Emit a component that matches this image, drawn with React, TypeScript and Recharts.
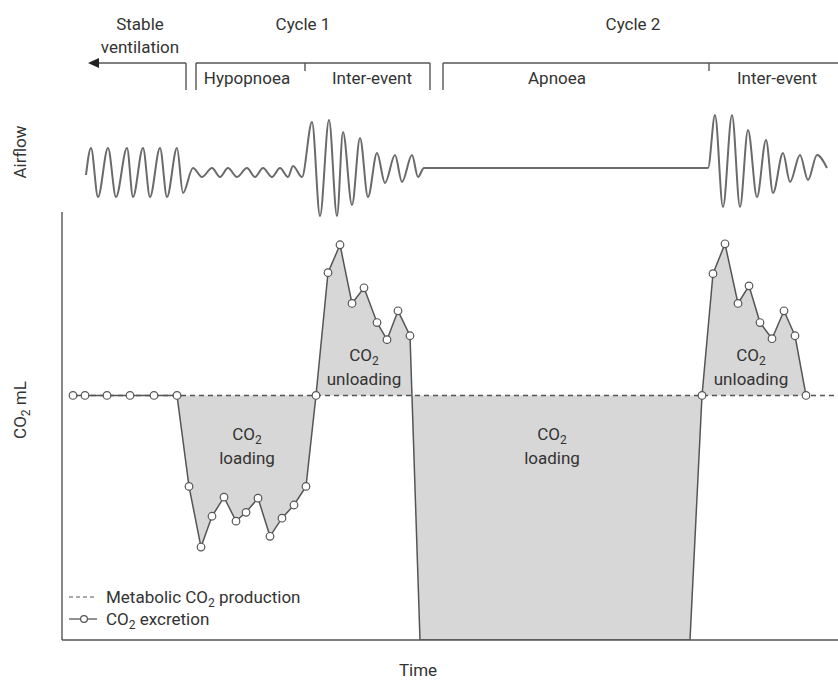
import React from 'react';
import {
  ComposedChart,
  LineChart,
  Line,
  Area,
  XAxis,
  YAxis,
  ReferenceLine,
  ReferenceDot,
  Legend,
} from 'recharts';

const FONT = 'Roboto, "Noto Sans", "DejaVu Sans", sans-serif';
const FS = 17;
const SUB_FS = 12;
const INK = '#333333';
const LINE = '#555555';
const TRACE = '#6a6a6a';
const FILL = '#d7d7d7';

const W = 838;
const H = 684;

// ---------- data ----------
const T_MAX = 194; // time axis length (s)
const CO2_MAX = 8.75; // top of CO2 axis
const METABOLIC_CO2 = 5; // metabolic CO2 production (constant)

// CO2 excretion samples
const co2Time = [
  2.75, 5.75, 11.25, 17, 23, 28.75,
  31.75, 34.75, 37.5, 40.5, 43.5, 46, 49, 52, 55, 58, 61,
  63.5,
  66.5, 69.5, 72.5, 75.5, 78.75, 81.25, 84, 87,
  89.5, 157,
  160,
  162.75, 165.75, 169, 171.75, 174.5, 177.5, 180.5, 183.25,
  186,
];
const co2Excretion = [
  5, 5, 5, 5, 5, 5,
  3.14, 1.9, 2.53, 2.92, 2.43, 2.61, 2.9, 2.12, 2.49, 2.76, 3.14,
  5,
  7.51, 8.08, 6.88, 7.2, 6.49, 6.14, 6.73, 6.22,
  0, 0,
  5,
  7.49, 8.1, 6.88, 7.24, 6.49, 6.16, 6.73, 6.22,
  5,
];

// Airflow trace: turning points (peaks / troughs) of each breath
const airflowTime = [
  6, 7.25, 9, 11.5, 13.5, 16.25, 17.75, 20.25, 22, 24.5, 26.25, 28.75, 30.25,
  32.75, 35, 37.5, 39.5, 41.5, 43.75, 46.25, 48.25, 50.25, 52.5, 54.5, 56.5, 57.75, 60,
  62.5, 64.5, 66.75, 68.75, 70.25, 72.5, 74.5, 76.5, 78.75, 80.75, 83.25, 85, 87.5, 89, 90.5,
  161.5,
  163.25, 165.25, 167.5, 169.5, 171.5, 173.75, 176, 177.75, 180.25, 182, 184.5, 186.5, 188.75, 191.25,
];
const airflowSignal = [
  -0.8, 1.9, -3.0, 1.9, -3.0, 1.9, -3.0, 1.9, -3.0, 1.9, -3.0, 1.9, -2.6,
  -0.1, -1.0, -0.1, -1.0, -0.1, -1.0, -0.1, -1.0, -0.1, -1.0, -0.1, -1.0, 0.1, -1.0,
  4.5, -4.9, 4.7, -4.9, 3.5, -3.8, 2.9, -3.0, 1.4, -1.6, 1.2, -1.5, 1.2, -1.0, -0.1,
  -0.1,
  5.2, -4.0, 5.2, -4.0, 3.7, -3.0, 2.7, -2.6, 1.4, -1.5, 1.2, -1.3, 1.2, -0.1,
];
const FLOW_MIN = -5.3;
const FLOW_MAX = 16.7;

// Phase annotations (times in s)
const phaseTitles = [
  { t: 19.5, lines: ['Stable', 'ventilation'] },
  { t: 60.25, lines: ['Cycle 1'] },
  { t: 142.75, lines: ['Cycle 2'] },
];
const phaseEvents = [
  { t: 46.25, label: 'Hypopnoea' },
  { t: 77.5, label: 'Inter-event' },
  { t: 123.75, label: 'Apnoea' },
  { t: 178.75, label: 'Inter-event' },
];
const stableArrow = { tip: 6.5, end: 31 };
const cycleBrackets = [
  { start: 33.5, split: 60.75, end: 92, closed: true },
  { start: 95.25, split: 161.75, end: T_MAX, closed: false },
];
const regionLabels = [
  { t: 46.25, v: 4.22, text: 'loading' },
  { t: 75.5, v: 5.82, text: 'unloading' },
  { t: 122.5, v: 4.22, text: 'loading' },
  { t: 172.25, v: 5.82, text: 'unloading' },
];

const co2Data = co2Time.map((t, i) => ({ t, co2: co2Excretion[i] }));
const airflowData = airflowTime.map((t, i) => ({ t, flow: airflowSignal[i] }));

// header rows, expressed on the airflow axis (above the trace)
const ROW_TITLE = 14.3;
const ROW_BRACKET = 10.4;
const ROW_BRACKET_END = 7.7;
const ROW_SPLIT_END = 9.6;
const ROW_EVENT = 8.9;
const TOP_H = 220;
const TITLE_GAP = 23.5;

const Sub = ({ children }: { children: React.ReactNode }) => (
  <span style={{ fontSize: SUB_FS, verticalAlign: -4, lineHeight: 0 }}>{children}</span>
);

const LegendBox = () => (
  <div style={{ fontFamily: FONT, fontSize: FS, color: INK, lineHeight: '22px', width: 280 }}>
    <div style={{ display: 'flex', alignItems: 'center', height: 22 }}>
      <svg width={30} height={10} style={{ display: 'block' }}>
        <line x1={1} x2={29} y1={5} y2={5} stroke={LINE} strokeWidth={1.2} strokeDasharray="4 3" />
      </svg>
      <span style={{ marginLeft: 8 }}>
        Metabolic CO<Sub>2</Sub> production
      </span>
    </div>
    <div style={{ display: 'flex', alignItems: 'center', height: 22 }}>
      <svg width={30} height={10} style={{ display: 'block' }}>
        <line x1={1} x2={29} y1={5} y2={5} stroke={LINE} strokeWidth={1.3} />
        <circle cx={16} cy={5} r={3.4} fill="#fff" stroke={LINE} strokeWidth={1.2} />
      </svg>
      <span style={{ marginLeft: 8 }}>
        CO<Sub>2</Sub> excretion
      </span>
    </div>
  </div>
);

const ExcretionDot = (p: any) => {
  const key = `dot-${p.index}`;
  if (!p.payload || p.payload.co2 <= 0 || p.cx == null || p.cy == null) return <g key={key} />;
  return <circle key={key} cx={p.cx} cy={p.cy} r={3.8} fill="#fff" stroke={LINE} strokeWidth={1.2} />;
};

const regionShape = (text: string) => (p: any) => (
  <g>
    <text x={p.cx} y={p.cy} dy="0.35em" textAnchor="middle" fontFamily={FONT} fontSize={FS} fill={INK}>
      CO
      <tspan dy={4} fontSize={SUB_FS}>2</tspan>
    </text>
    <text x={p.cx} y={p.cy + 24} dy="0.35em" textAnchor="middle" fontFamily={FONT} fontSize={FS} fill={INK}>
      {text}
    </text>
  </g>
);

const titleShape = (lines: string[]) => (p: any) => (
  <g>
    {lines.map((ln, i) => (
      <text key={ln} x={p.cx} y={p.cy + i * TITLE_GAP} dy="0.35em" textAnchor="middle" fontFamily={FONT} fontSize={FS} fill={INK}>
        {ln}
      </text>
    ))}
  </g>
);

const eventShape = (label: string) => (p: any) => (
  <text x={p.cx} y={p.cy} dy="0.35em" textAnchor="middle" fontFamily={FONT} fontSize={FS} fill={INK}>
    {label}
  </text>
);

const arrowShape = (p: any) => (
  <polygon points={`${p.cx},${p.cy} ${p.cx + 11},${p.cy - 5} ${p.cx + 11},${p.cy + 5}`} fill="#222" />
);

const lineStyle = { stroke: LINE, strokeWidth: 1.4, ifOverflow: 'visible' as const };

export default function App() {
  const seg = (x1: number, y1: number, x2: number, y2: number, key: string) => (
    <ReferenceLine
      key={key}
      yAxisId="flow"
      segment={[
        { x: x1, y: y1 },
        { x: x2, y: y2 },
      ]}
      {...lineStyle}
    />
  );
  const headerLines: React.ReactNode[] = [
    seg(stableArrow.tip + 2, ROW_BRACKET, stableArrow.end, ROW_BRACKET, 'sa-h'),
    seg(stableArrow.end, ROW_BRACKET, stableArrow.end, ROW_BRACKET_END, 'sa-v'),
  ];
  cycleBrackets.forEach((b, i) => {
    headerLines.push(seg(b.start, ROW_BRACKET, b.end, ROW_BRACKET, `b${i}-h`));
    headerLines.push(seg(b.start, ROW_BRACKET, b.start, ROW_BRACKET_END, `b${i}-l`));
    headerLines.push(seg(b.split, ROW_BRACKET, b.split, ROW_SPLIT_END, `b${i}-m`));
    if (b.closed) headerLines.push(seg(b.end, ROW_BRACKET, b.end, ROW_BRACKET_END, `b${i}-r`));
  });

  return (
    <div style={{ position: 'absolute', left: 0, top: 0, width: W, height: H, background: '#fff' }}>
      <div style={{ position: 'absolute', left: 0, top: 0 }}>
        <ComposedChart width={W} height={H} data={co2Data} margin={{ top: 212, right: 0, bottom: 0, left: 0 }}>
          <XAxis
            dataKey="t"
            type="number"
            domain={[0, T_MAX]}
            ticks={[0]}
            allowDataOverflow
            height={44}
            tick={false}
            tickSize={7}
            axisLine={{ stroke: LINE, strokeWidth: 1.4 }}
            tickLine={{ stroke: LINE, strokeWidth: 1.4 }}
            label={{
              content: () => (
                <text x={418} y={670} dy="0.35em" textAnchor="middle" fontFamily={FONT} fontSize={FS} fill={INK}>
                  Time
                </text>
              ),
            }}
          />
          <YAxis
            type="number"
            domain={[0, CO2_MAX]}
            ticks={[0, CO2_MAX]}
            allowDataOverflow
            width={62}
            tick={false}
            tickSize={9}
            axisLine={{ stroke: LINE, strokeWidth: 1.4 }}
            tickLine={{ stroke: LINE, strokeWidth: 1.4 }}
            label={{
              content: () => (
                <text
                  x={20}
                  y={410}
                  dy="0.35em"
                  transform="rotate(-90, 20, 410)"
                  textAnchor="middle"
                  fontFamily={FONT}
                  fontSize={FS}
                  fill={INK}
                >
                  CO<tspan dy={4} fontSize={SUB_FS}>2</tspan>
                  <tspan dy={-4}> mL</tspan>
                </text>
              ),
            }}
          />
          <Area
            type="linear"
            dataKey="co2"
            baseValue={METABOLIC_CO2}
            stroke={LINE}
            strokeWidth={1.5}
            fill={FILL}
            fillOpacity={1}
            dot={ExcretionDot}
            activeDot={false}
            isAnimationActive={false}
          />
          <ReferenceLine
            segment={[
              { x: co2Time[0], y: METABOLIC_CO2 },
              { x: T_MAX, y: METABOLIC_CO2 },
            ]}
            stroke={LINE}
            strokeWidth={1.4}
            strokeDasharray="5 4"
          />
          {regionLabels.map((r, i) => (
            <ReferenceDot key={`rl-${i}`} x={r.t} y={r.v} r={1} shape={regionShape(r.text)} />
          ))}
          <Legend
            layout="horizontal"
            verticalAlign="middle"
            align="center"
            content={() => <LegendBox />}
            wrapperStyle={{ left: 68, top: 586, width: 280 }}
          />
        </ComposedChart>
      </div>

      <div style={{ position: 'absolute', left: 0, top: 0 }}>
        <LineChart width={W} height={TOP_H} data={airflowData} margin={{ top: 0, right: 0, bottom: 0, left: 0 }}>
          <XAxis dataKey="t" type="number" domain={[0, T_MAX]} allowDataOverflow hide />
          <YAxis
            yAxisId="flow"
            type="number"
            domain={[FLOW_MIN, FLOW_MAX]}
            allowDataOverflow
            width={62}
            axisLine={false}
            tickLine={false}
            tick={false}
            label={{
              content: () => (
                <text
                  x={20}
                  y={152}
                  dy="0.35em"
                  transform="rotate(-90, 20, 152)"
                  textAnchor="middle"
                  fontFamily={FONT}
                  fontSize={FS}
                  fill={INK}
                >
                  Airflow
                </text>
              ),
            }}
          />
          <Line
            yAxisId="flow"
            type="monotone"
            dataKey="flow"
            stroke={TRACE}
            strokeWidth={2}
            dot={false}
            activeDot={false}
            isAnimationActive={false}
          />
          {headerLines}
          <ReferenceDot yAxisId="flow" x={stableArrow.tip} y={ROW_BRACKET} r={1} shape={arrowShape} />
          {phaseTitles.map((p, i) => (
            <ReferenceDot key={`pt-${i}`} yAxisId="flow" x={p.t} y={ROW_TITLE} r={1} shape={titleShape(p.lines)} />
          ))}
          {phaseEvents.map((p, i) => (
            <ReferenceDot key={`pe-${i}`} yAxisId="flow" x={p.t} y={ROW_EVENT} r={1} shape={eventShape(p.label)} />
          ))}
        </LineChart>
      </div>
    </div>
  );
}
